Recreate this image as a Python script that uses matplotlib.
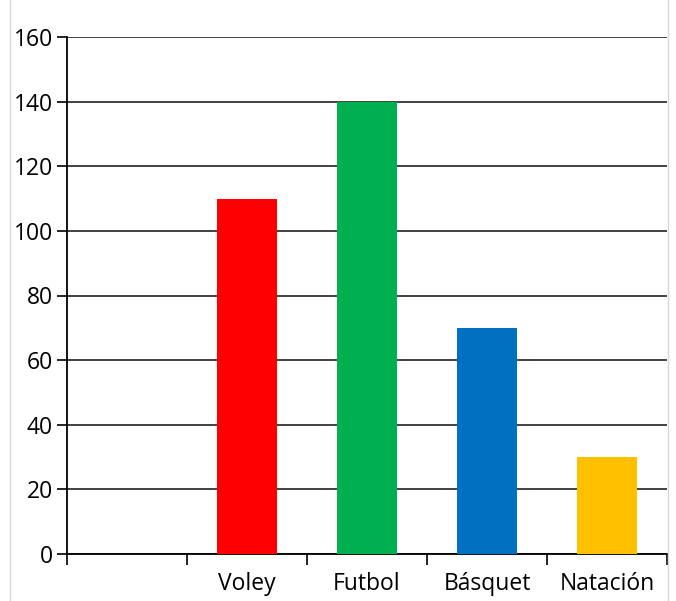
import matplotlib.pyplot as plt
from matplotlib.lines import Line2D
import numpy as np

categories = ["", "Voley", "Futbol", "Básquet", "Natación"]
values = [0, 110, 140, 70, 30]
colors = ["white", "#FF0000", "#00B050", "#0070C0", "#FFC000"]
yticks = [0, 20, 40, 60, 80, 100, 120, 140, 160]

fig = plt.figure(figsize=(6.76, 6.01), dpi=100)
ax = fig.add_axes([67 / 676, 47 / 601, 600 / 676, 517 / 601])

x = np.arange(len(categories))
ax.bar(x, values, width=0.5, color=colors, zorder=3)

ax.set_xlim(-0.5, len(categories) - 0.5)
ax.set_ylim(0, 160)
ax.set_yticks(yticks)
ax.yaxis.grid(True, color="#333333", linewidth=1.3, zorder=1)
ax.set_axisbelow(True)

# category labels centred, tick marks at the slot borders
ax.set_xticks(x)
ax.set_xticklabels(categories, fontsize=16.5, fontfamily="Open Sans")
ax.tick_params(axis="x", which="major", length=0, pad=13)
ax.set_xticks(np.arange(-0.5, len(categories)), minor=True)
ax.tick_params(axis="x", which="minor", length=8, width=1.2, color="black")
ax.tick_params(axis="y", length=7, width=1.2, labelsize=16.5, pad=3)
for lbl in ax.get_yticklabels():
    lbl.set_fontfamily("Open Sans")

for s in ["top", "right"]:
    ax.spines[s].set_visible(False)
ax.spines["left"].set_linewidth(1.3)
ax.spines["bottom"].set_linewidth(1.3)

# faint frame lines at the picture edges
for xp in (10 / 676, 668 / 676):
    fig.add_artist(Line2D([xp, xp], [0, 1], color="#d8d8d8", linewidth=1))

fig.savefig("out.png", dpi=100)
